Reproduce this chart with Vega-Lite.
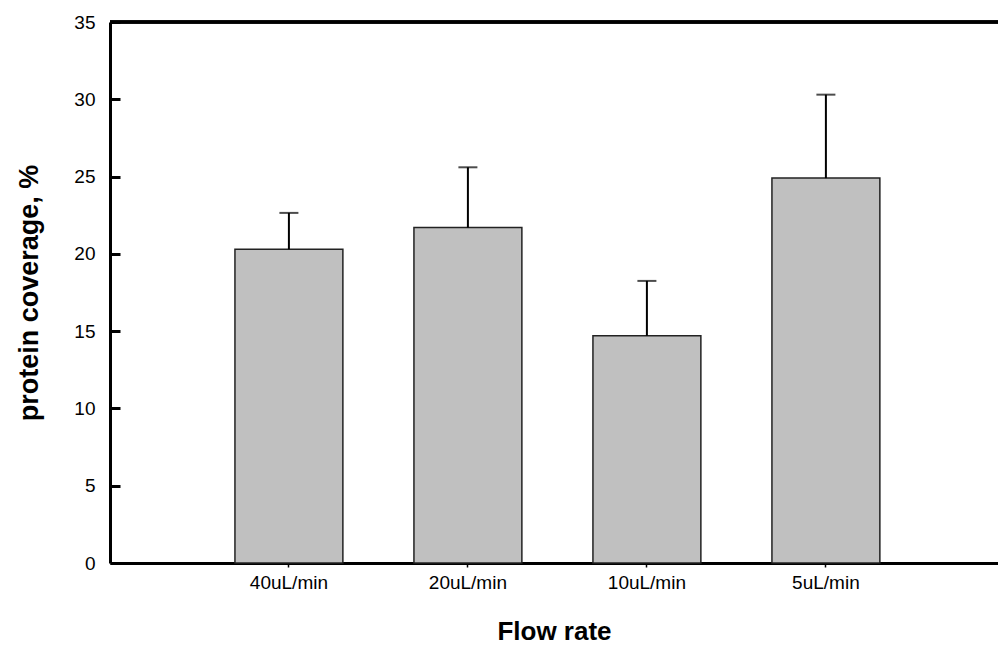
{
  "$schema": "https://vega.github.io/schema/vega-lite/v6.json",
  "autosize": {"type": "none"},
  "padding": {"left": 110, "top": 22, "right": 0, "bottom": 82},
  "width": 888,
  "height": 541,
  "background": "white",
  "config": {
    "view": {"stroke": null},
    "font": "Liberation Sans",
    "axis": {"grid": false, "domainColor": "black", "tickColor": "black", "labelColor": "black", "titleColor": "black", "labelFont": "Liberation Sans", "titleFont": "Liberation Sans"}
  },
  "data": {
    "values": [
      {"rate": "40uL/min", "coverage": 20.3, "upper": 22.65},
      {"rate": "20uL/min", "coverage": 21.7, "upper": 25.6},
      {"rate": "10uL/min", "coverage": 14.7, "upper": 18.25},
      {"rate": "5uL/min", "coverage": 24.9, "upper": 30.3}
    ]
  },
  "encoding": {
    "x": {
      "field": "rate",
      "type": "nominal",
      "sort": ["40uL/min", "20uL/min", "10uL/min", "5uL/min"],
      "scale": {"paddingInner": 0.397, "paddingOuter": 0.679, "align": 0.514},
      "axis": {
        "title": "Flow rate",
        "titleFontSize": 26,
        "titleFontWeight": "bold",
        "titleX": 444,
        "titleY": 68,
        "titleBaseline": "middle",
        "titleAlign": "center",
        "labelAngle": 0,
        "labelFontSize": 19,
        "labelPadding": 6,
        "domainWidth": 3,
        "tickSize": 4,
        "tickWidth": 1.5
      }
    }
  },
  "layer": [
    {
      "mark": {"type": "bar", "fill": "#c0c0c0", "stroke": "#222222", "strokeWidth": 1.5},
      "encoding": {
        "y": {
          "field": "coverage",
          "type": "quantitative",
          "scale": {"domain": [0, 35], "nice": false},
          "axis": {
            "title": "protein coverage, %",
            "titleFontSize": 27,
            "titleFontWeight": "bold",
            "titleX": -81,
            "titleY": 270.5,
            "titleAngle": -90,
            "titleAlign": "center",
            "titleBaseline": "middle",
            "values": [0, 5, 10, 15, 20, 25, 30, 35],
            "labelFontSize": 19,
            "labelPadding": 25,
            "ticks": true,
            "tickSize": -10,
            "tickWidth": 3,
            "domainWidth": 3
          }
        }
      }
    },
    {
      "mark": {"type": "rule", "color": "black", "strokeWidth": 2},
      "encoding": {
        "y": {"field": "coverage", "type": "quantitative"},
        "y2": {"field": "upper"}
      }
    },
    {
      "mark": {"type": "tick", "color": "black", "orient": "horizontal", "size": 19, "thickness": 2},
      "encoding": {
        "y": {"field": "upper", "type": "quantitative"}
      }
    },
    {
      "mark": {"type": "rule", "color": "black", "strokeWidth": 3},
      "encoding": {
        "y": {"datum": 35, "type": "quantitative"},
        "x": null
      }
    }
  ]
}
